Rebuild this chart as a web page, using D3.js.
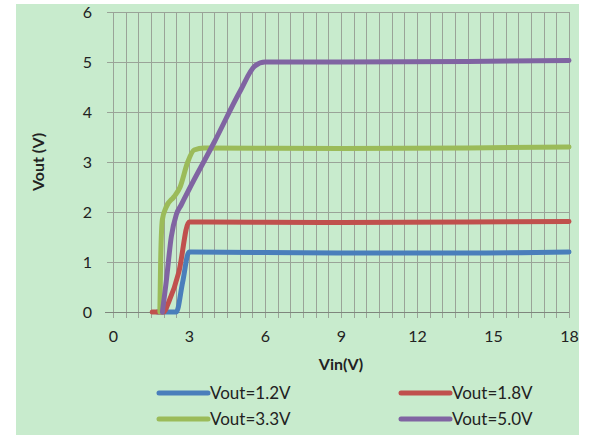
<!DOCTYPE html>
<html>
<head>
<meta charset="utf-8">
<script src="https://cdn.jsdelivr.net/npm/d3@7"></script>
<style>
  body { margin: 0; background: #fff; }
  text { font-family: Lato, "Open Sans", sans-serif; fill: #222; }
</style>
</head>
<body>
<div id="chart"></div>
<script>
// data
var seriesNames = ["Vout=1.2V", "Vout=1.8V", "Vout=3.3V", "Vout=5.0V"];
var seriesColors = ["#4a7ebb", "#c0504d", "#9bbb59", "#8064a2"];

var vout12 = [[1.75,0],[2.5,0],[2.75,0.6],[3.0,1.2],[9,1.18],[14,1.18],[18,1.2]];
var vout18 = [[1.55,0],[2.0,0],[2.2,0.2],[2.6,0.8],[3.0,1.8],[9,1.79],[14,1.8],[18,1.81]];
var vout33 = [[1.85,0],[1.88,1.0],[1.95,1.85],[2.1,2.1],[2.4,2.3],[2.65,2.5],[2.95,3.0],[3.2,3.24],[3.6,3.28],[9,3.27],[14,3.28],[18,3.3]];
var vout50 = [[1.95,0],[2.1,0.6],[2.3,1.5],[2.5,1.95],[2.7,2.15],[3.0,2.45],[4.0,3.4],[5.0,4.4],[5.6,4.92],[6.0,5.0],[9,5.0],[14,5.01],[18,5.03]];
var allSeries = [vout12, vout18, vout33, vout50];

var xTicks = [0, 3, 6, 9, 12, 15, 18];
var yTicks = [0, 1, 2, 3, 4, 5, 6];

var W = 593, H = 437;
var margin = {left: 113, right: 24, top: 12, bottom: 125};
var width = W - margin.left - margin.right,
    height = H - margin.top - margin.bottom;

var svg = d3.select("#chart").append("svg")
  .attr("width", W).attr("height", H);

svg.append("rect")
  .attr("x", 16).attr("y", 4).attr("width", 563).attr("height", 431)
  .attr("fill", "#c8ebcd");

var g = svg.append("g")
  .attr("transform", "translate(" + margin.left + "," + margin.top + ")");

var x = d3.scaleLinear().domain([0, 18]).range([0, width]);
var y = d3.scaleLinear().domain([0, 6]).range([height, 0]);

// vertical minor grid every 0.5
g.append("g")
  .selectAll("line")
  .data(d3.range(0, 18.01, 0.5))
  .enter().append("line")
    .attr("x1", function(d) { return Math.round(x(d)) + 0.5; })
    .attr("x2", function(d) { return Math.round(x(d)) + 0.5; })
    .attr("y1", 0).attr("y2", height + 6)
    .attr("stroke", "#9aa398").attr("stroke-width", 1);

// horizontal grid
g.append("g")
  .selectAll("line")
  .data(yTicks)
  .enter().append("line")
    .attr("x1", -6).attr("x2", width)
    .attr("y1", function(d) { return Math.round(y(d)) + 0.5; })
    .attr("y2", function(d) { return Math.round(y(d)) + 0.5; })
    .attr("stroke", "#9aa398").attr("stroke-width", 1);

// x axis line
g.append("line")
  .attr("x1", -8).attr("x2", width)
  .attr("y1", height + 0.5).attr("y2", height + 0.5)
  .attr("stroke", "#7f867d").attr("stroke-width", 1.2);

var xAxis = g.append("g")
  .attr("transform", "translate(0," + height + ")")
  .call(d3.axisBottom(x).tickValues(xTicks).tickSize(0).tickPadding(19));
xAxis.select(".domain").remove();
xAxis.selectAll("text").style("font-size", "16px").attr("fill", "#222");

var yAxis = g.append("g")
  .call(d3.axisLeft(y).tickValues(yTicks).tickFormat(d3.format("d")).tickSize(0).tickPadding(21));
yAxis.select(".domain").remove();
yAxis.selectAll("text").style("font-size", "16px").attr("fill", "#222");

var line = d3.line()
  .x(function(d) { return x(d[0]); })
  .y(function(d) { return y(d[1]); })
  .curve(d3.curveMonotoneX);

g.append("g")
  .selectAll("path")
  .data(allSeries)
  .enter().append("path")
    .attr("d", line)
    .attr("fill", "none")
    .attr("stroke", function(d, i) { return seriesColors[i]; })
    .attr("stroke-width", 5)
    .attr("stroke-linecap", "round")
    .attr("stroke-linejoin", "round");

// axis titles
svg.append("text")
  .attr("x", 341).attr("y", 370)
  .attr("text-anchor", "middle")
  .style("font-size", "16px").attr("font-weight", "bold")
  .text("Vin(V)");

svg.append("text")
  .attr("transform", "translate(44,162) rotate(-90)")
  .attr("text-anchor", "middle")
  .style("font-size", "16px").attr("font-weight", "bold")
  .text("Vout (V)");

// legend
var legend = svg.append("g")
  .selectAll("g")
  .data(seriesNames)
  .enter().append("g")
    .attr("transform", function(d, i) {
      return "translate(" + (i % 2 === 0 ? 159 : 401) + "," + (393 + Math.floor(i / 2) * 26) + ")";
    });

legend.append("line")
  .attr("x1", 0).attr("x2", 49)
  .attr("stroke", function(d, i) { return seriesColors[i]; })
  .attr("stroke-width", 5)
  .attr("stroke-linecap", "round");

legend.append("text")
  .attr("x", 51).attr("dy", "0.35em")
  .style("font-size", "17px")
  .text(function(d) { return d; });
</script>
</body>
</html>
